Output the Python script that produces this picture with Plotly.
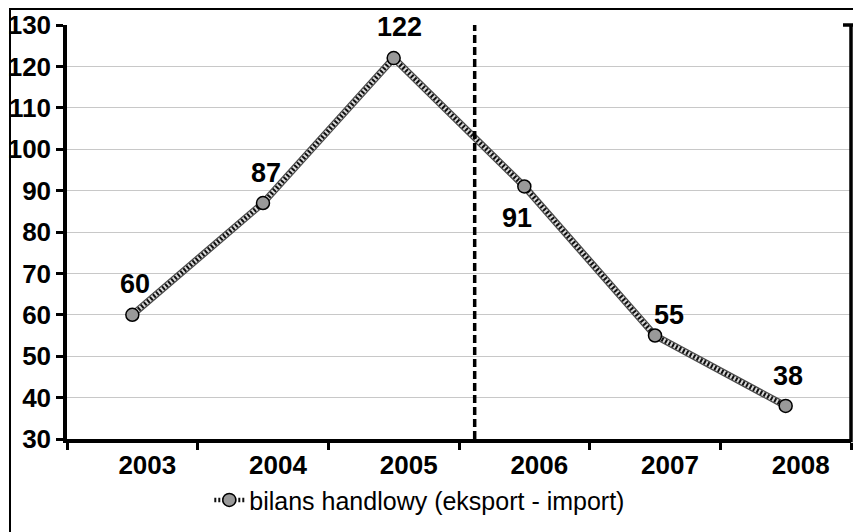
import plotly.graph_objects as go

years = ["2003", "2004", "2005", "2006", "2007", "2008"]
values = [60, 87, 122, 91, 55, 38]
y_ticks = [30, 40, 50, 60, 70, 80, 90, 100, 110, 120, 130]
series_name = "bilans handlowy (eksport - import)"
divider_x = 2.62  # dashed separator between 2005 and 2006 (category index)

# label offsets (pixels) per point
label_dx = [3, 3, 6, -7, 14, 2]
label_dy = [31, 30, 31, -32, 21, 30]

FONT = "Liberation Sans, Arial, sans-serif"
xs = list(range(len(years)))

fig = go.Figure()
fig.add_trace(go.Scatter(x=xs, y=values, mode="lines",
                         line=dict(color="#4a4a4a", width=7),
                         showlegend=False, hoverinfo="skip"))
fig.add_trace(go.Scatter(x=xs, y=values, mode="lines",
                         line=dict(color="#d8d8d8", width=4.5),
                         showlegend=False, hoverinfo="skip"))
fig.add_trace(go.Scatter(x=xs, y=values, mode="lines+markers",
                         name=series_name,
                         line=dict(color="#111111", width=4.5, dash="2px,2px"),
                         marker=dict(size=13, color="#999999",
                                     line=dict(color="black", width=1.5))))

for i, v in enumerate(values):
    fig.add_annotation(x=i, y=v, text=str(v), showarrow=False,
                       xshift=label_dx[i], yshift=label_dy[i],
                       font=dict(family=FONT, size=27, color="black", weight="bold"))

# dashed divider
fig.add_shape(type="line", xref="x", yref="y", x0=divider_x, x1=divider_x,
              y0=y_ticks[0], y1=y_ticks[-1],
              line=dict(color="black", width=3.5, dash="8px,4px"))
# right axis line with top cap
fig.add_shape(type="line", xref="paper", yref="paper", x0=1, x1=1, y0=-0.008, y1=1,
              line=dict(color="black", width=3.5))
fig.add_shape(type="line", xref="paper", yref="paper", x0=0.9898, x1=1.0077, y0=1, y1=1,
              line=dict(color="black", width=3.5))
# outer frame (top and left visible)
fig.add_shape(type="rect", xref="paper", yref="paper", x0=-0.0727, x1=1.2, y0=-0.6, y1=1.0386,
              line=dict(color="black", width=2), layer="below")

fig.update_layout(
    width=853, height=524,
    margin=dict(l=59, r=10, t=17, b=92),
    paper_bgcolor="white", plot_bgcolor="white",
    font=dict(family=FONT, color="black"),
    showlegend=True,
    legend=dict(orientation="h", x=0.45, xanchor="center", y=-0.145, yanchor="middle",
                font=dict(family=FONT, size=25, color="black"),
                bgcolor="rgba(0,0,0,0)"),
    xaxis=dict(range=[-0.5, len(years) - 0.5], tickvals=xs, ticktext=years,
               showgrid=False, zeroline=False, automargin=False,
               showline=True, linecolor="black", linewidth=3.5,
               ticks="", ticklabelshift=15,
               minor=dict(tickvals=[i - 0.5 for i in range(len(years) + 1)],
                          ticks="outside", ticklen=7, tickwidth=3, tickcolor="black", showgrid=False),
               tickfont=dict(family=FONT, size=26, color="black", weight="bold")),
    yaxis=dict(range=[y_ticks[0], y_ticks[-1]], tickvals=y_ticks,
               showgrid=True, gridcolor="#c8c8c8", gridwidth=1, zeroline=False, automargin=False,
               showline=True, linecolor="black", linewidth=3.5,
               ticks="outside", ticklen=7, tickwidth=3, tickcolor="black",
               tickfont=dict(family=FONT, size=26, color="black", weight="bold")),
)

fig.write_html("out.html")
